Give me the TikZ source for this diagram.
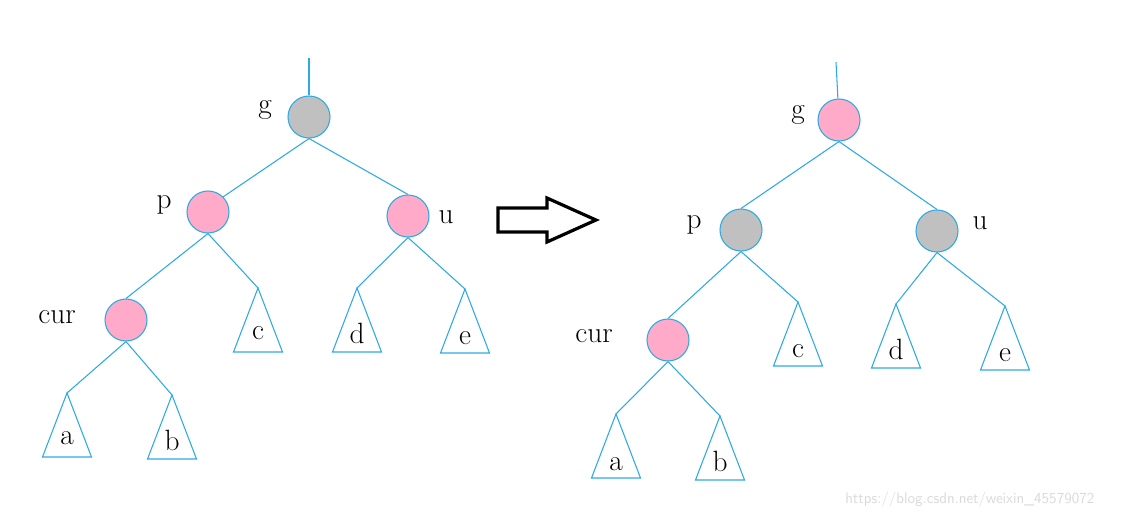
\documentclass[tikz,border=0pt]{standalone}
\definecolor{lineblue}{RGB}{45,170,228}
\definecolor{nodegray}{RGB}{192,192,192}
\definecolor{nodepink}{RGB}{255,170,200}
\tikzset{
  edge/.style={draw=lineblue, line width=0.8pt},
  rbnode/.style={circle, draw=lineblue, line width=0.8pt, minimum size=31.5pt, inner sep=0pt},
  graynode/.style={rbnode, fill=nodegray},
  pinknode/.style={rbnode, fill=nodepink},
  lbl/.style={font=\fontsize{22}{26}\selectfont, text=black, inner sep=0pt},
  tri/.style={draw=lineblue, line width=0.8pt}
}
% name, apex x, apex y, label, baseline offset
\newcommand{\subtree}[5]{%
  \coordinate (#1) at (#2,#3);
  \draw[tri] (#1) -- ++(-24.5,64) -- ++(49,0) -- cycle;
  \node[lbl, anchor=base] (#1-l) at (#2,#3+#5) {#4};}
\begin{document}
\begin{tikzpicture}[x=0.75pt,y=-0.75pt]
\useasboundingbox (0,0) rectangle (1125,519);
% ---------- left tree ----------
\node[graynode] (g1) at (309,117) {};
\node[pinknode] (p1) at (208,212) {};
\node[pinknode] (u1) at (408,216) {};
\node[pinknode] (cur1) at (126,320) {};
\coordinate (top1) at (309,58);
\subtree{c1}{258}{288}{c}{51}
\subtree{d1}{357}{288}{d}{55}
\subtree{e1}{465}{289}{e}{55}
\subtree{a1}{67}{393}{a}{51}
\subtree{b1}{172}{395}{b}{55}
\draw[edge] (top1) -- (g1);
\draw[edge] (g1.south) -- (p1.north east);
\draw[edge] (g1.south) -- (u1.north);
\draw[edge] (p1.south) -- (cur1.north);
\draw[edge] (p1.south) -- (c1);
\draw[edge] (u1.south) -- (d1);
\draw[edge] (u1.south) -- (e1);
\draw[edge] (cur1.south) -- (a1);
\draw[edge] (cur1.south) -- (b1);
\node[lbl] (g1-l) at (265,110) {g};
\node[lbl] (p1-l) at (164,205) {p};
\node[lbl] (u1-l) at (446,217) {u};
\node[lbl] (cur1-l) at (57,317) {cur};
% ---------- arrow ----------
\draw[line width=2.4pt, line join=miter] (498,208) -- (547,208) -- (547,198) -- (596,220) -- (547,242) -- (547,232) -- (498,232) -- cycle;
% ---------- right tree ----------
\node[pinknode] (g2) at (839,120) {};
\node[graynode] (p2) at (741,230) {};
\node[graynode] (u2) at (937,231) {};
\node[pinknode] (cur2) at (668,340) {};
\coordinate (top2) at (836,62);
\subtree{c2}{798}{302}{c}{55}
\subtree{d2}{896}{304}{d}{55}
\subtree{e2}{1005}{306}{e}{55}
\subtree{a2}{616}{414}{a}{56}
\subtree{b2}{720}{416}{b}{55}
\draw[edge] (top2) -- (g2);
\draw[edge] (g2.south) -- (p2.north);
\draw[edge] (g2.south) -- (u2.north);
\draw[edge] (p2.south) -- (cur2.north);
\draw[edge] (p2.south) -- (c2);
\draw[edge] (u2.south) -- (d2);
\draw[edge] (u2.south) -- (e2);
\draw[edge] (cur2.south) -- (a2);
\draw[edge] (cur2.south) -- (b2);
\node[lbl] (g2-l) at (798,115) {g};
\node[lbl] (p2-l) at (694,225) {p};
\node[lbl] (u2-l) at (980,223) {u};
\node[lbl] (cur2-l) at (594,336) {cur};
% ---------- watermark ----------
\node[font=\sffamily\fontsize{11.5}{13}\selectfont, text=black!15, anchor=west, inner sep=0pt] (wm) at (845,500) {https://blog.csdn.net/weixin\_45579072};
\end{tikzpicture}
\end{document}
